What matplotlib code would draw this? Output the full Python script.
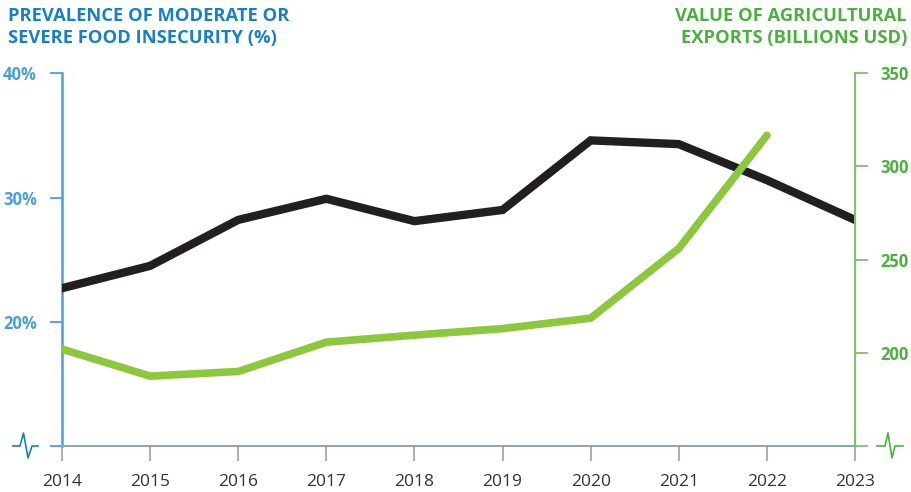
import matplotlib
matplotlib.use('Agg')
import matplotlib.pyplot as plt
from matplotlib.lines import Line2D

years = [2014, 2015, 2016, 2017, 2018, 2019, 2020, 2021, 2022, 2023]
insecurity = [22.7, 24.5, 28.2, 29.9, 28.1, 29.0, 34.6, 34.3, 31.4, 28.2]
export_years = [2014, 2015, 2016, 2017, 2018, 2019, 2020, 2021, 2022]
exports = [202, 187.5, 190, 205.7, 209.5, 213, 218.6, 256, 316.7]

left_ticks = [10, 20, 30, 40]
left_labels = ['', '20%', '30%', '40%']
right_ticks = [150, 200, 250, 300, 350]
right_labels = ['', '200', '250', '300', '350']

BLUE = '#1a7fc4'
BLUE_AX = '#4a9fd8'
GREEN = '#4caf3f'
GREEN_AX = '#7cc46a'
LINE_GREEN = '#8dc63f'
DARK = '#231f20'

plt.rcParams['font.family'] = ['Open Sans', 'DejaVu Sans']

W, H = 911, 492
fig = plt.figure(figsize=(W / 100, H / 100), dpi=100)
ax = fig.add_axes([62 / W, 1 - 446 / H, (855 - 62) / W, (446 - 73.3) / H])
ax2 = ax.twinx()

ax.plot(years, insecurity, color=DARK, lw=6, solid_capstyle='round', solid_joinstyle='miter', zorder=3)
ax2.plot(export_years, exports, color=LINE_GREEN, lw=5.5, solid_capstyle='round', zorder=2)

ax.set_xlim(2014, 2023)
ax.set_ylim(10, 40)
ax2.set_ylim(150, 350)
ax.set_xticks(years)
ax.set_xticklabels([str(y) for y in years], fontsize=12.5, color='#333333')
ax.tick_params(axis='x', length=11, width=1.5, color='#b0b0b0', pad=9)

ax.set_yticks(left_ticks)
ax.set_yticklabels(left_labels, fontsize=12, color=BLUE_AX, fontweight='bold')
ax.tick_params(axis='y', length=9, width=1.3, color=BLUE_AX, pad=9)
ax2.set_yticks(right_ticks)
ax2.set_yticklabels(right_labels, fontsize=12, color=GREEN, fontweight='bold')
ax2.tick_params(axis='y', length=9, width=1.3, color=GREEN_AX, pad=9)

for a in (ax, ax2):
    a.spines['top'].set_visible(False)
ax.spines['right'].set_visible(False)
ax2.spines['left'].set_visible(False)
ax2.spines['bottom'].set_visible(False)
ax.spines['left'].set_color(BLUE_AX)
ax.spines['left'].set_linewidth(1.8)
ax2.spines['right'].set_color(GREEN_AX)
ax2.spines['right'].set_linewidth(1.5)
ax.spines['bottom'].set_color('#8fa6b8')
ax.spines['bottom'].set_linewidth(1.5)

# axis break marks
def fx(px):
    return px / W

def fy(py):
    return 1 - py / H

lx = [13, 20, 23.5, 28, 32, 38]
ly = [446, 446, 433, 458, 446, 446]
fig.add_artist(Line2D([fx(v) for v in lx], [fy(v) for v in ly], color=BLUE, lw=1.2))
rx = [877, 885, 888, 892, 895, 903]
fig.add_artist(Line2D([fx(v) for v in rx], [fy(v) for v in ly], color=GREEN, lw=1.2))

fig.text(8 / W, 1 - 7 / H, 'PREVALENCE OF MODERATE OR\nSEVERE FOOD INSECURITY (%)',
         ha='left', va='top', fontsize=13.2, fontweight='bold', color=BLUE, linespacing=1.25)
fig.text(907 / W, 1 - 7 / H, 'VALUE OF AGRICULTURAL\nEXPORTS (BILLIONS USD)',
         ha='right', va='top', fontsize=13.2, fontweight='bold', color=GREEN, linespacing=1.25)

fig.savefig('out.png', dpi=100)
